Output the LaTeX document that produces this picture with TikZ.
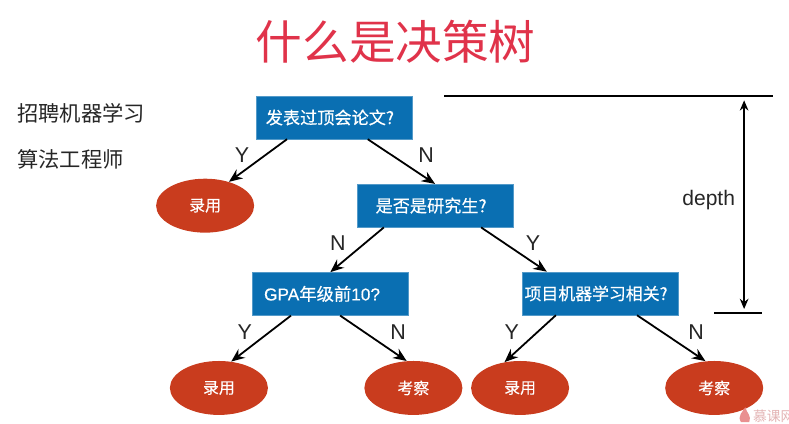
\documentclass[tikz,border=0pt]{standalone}
\usepackage{fontspec}
\setmainfont{Liberation Sans}
\newfontfamily\cjk{Noto Sans CJK SC}
\newfontfamily\cjkfat[FakeBold=0.35]{Noto Sans CJK SC}
\newfontfamily\latinfat[FakeBold=0.35]{Liberation Sans}
\usetikzlibrary{arrows.meta,shapes.geometric}
\definecolor{boxblue}{HTML}{0A6FB2}
\definecolor{leafred}{HTML}{C93C1E}
\definecolor{titlered}{HTML}{E0334A}
\definecolor{markpink}{HTML}{E3B4B4}
\tikzset{
    question/.style={fill=boxblue, draw=boxblue!70!white, minimum width=3.96cm, minimum height=1.09cm, inner sep=0pt, text=white, font=\cjkfat\fontsize{12.4}{14}\selectfont, execute at end node={\kern2mm}},
    leaf/.style={ellipse, fill=leafred, minimum width=2.49cm, minimum height=1.37cm, inner sep=0pt, text=white, font=\cjkfat\fontsize{11.5}{14}\selectfont},
    branch/.style={-{Stealth[length=3.4mm,width=2.8mm]}, line width=1.3pt, black},
    branchlabel/.style={font=\fontsize{15.5}{18}\selectfont, inner sep=0pt, text=black!85},
    note/.style={font=\cjk\fontsize{15.4}{18}\selectfont, inner sep=0pt, anchor=west, text=black!85}
}
\begin{document}
\begin{tikzpicture}
    \useasboundingbox (0,0) rectangle (20.04,10.744);

    % Title and notes
    \node[font=\cjk\fontsize{33.7}{36}\selectfont, text=titlered, inner sep=0pt] (title) at (10.05,9.68) {什么是决策树};
    \node[note] (job1) at (0.43,7.87) {招聘机器学习};
    \node[note] (job2) at (0.43,6.70) {算法工程师};

    % Questions
    \node[question] (q1) at (8.48,7.76) {发表过顶会论文?};
    \node[question] (q2) at (11.05,5.52) {是否是研究生?};
    \node[question, font=\latinfat\fontsize{12.5}{14}\selectfont, execute at end node={\kern2.2mm}] (q3) at (8.39,3.28) {GPA{\cjkfat 年级前}10?};
    \node[question, font=\cjkfat\fontsize{12.2}{14}\selectfont] (q4) at (15.24,3.29) {项目机器学习相关?};

    % Leaves
    \node[leaf] (a1) at (5.21,5.52) {录用};
    \node[leaf] (a2) at (5.56,0.89) {录用};
    \node[leaf] (a3) at (10.50,0.89) {考察};
    \node[leaf] (a4) at (13.21,0.89) {录用};
    \node[leaf] (a5) at (18.14,0.89) {考察};

    % Branches
    \draw[branch] ([xshift=-1.19cm]q1.south) -- (a1.45);
    \draw[branch] ([xshift=0.86cm]q1.south) -- (q2.north);
    \draw[branch] ([xshift=-1.30cm]q2.south) -- (q3.north);
    \draw[branch] ([xshift=1.17cm]q2.south) -- ([xshift=-1.35cm]q4.north);
    \draw[branch] ([xshift=-1.00cm]q3.south) -- (a2.65);
    \draw[branch] ([xshift=0.25cm]q3.south) -- (a3.104);
    \draw[branch] ([xshift=-1.12cm]q4.south) -- (a4.121);
    \draw[branch] ([xshift=0.94cm]q4.south) -- (a5.108);

    % Branch labels
    \node[branchlabel] (y1) at (6.15,6.80) {Y};
    \node[branchlabel] (n1) at (10.82,6.80) {N};
    \node[branchlabel] (n2) at (8.58,4.57) {N};
    \node[branchlabel] (y2) at (13.54,4.57) {Y};
    \node[branchlabel] (y3) at (6.22,2.31) {Y};
    \node[branchlabel] (n3) at (10.11,2.31) {N};
    \node[branchlabel] (y4) at (13.00,2.31) {Y};
    \node[branchlabel] (n4) at (17.68,2.31) {N};

    % Depth marker
    \coordinate (top1) at (11.28,8.30);
    \coordinate (top2) at (19.63,8.30);
    \coordinate (bot1) at (18.14,2.79);
    \coordinate (bot2) at (19.35,2.79);
    \coordinate (depthtop) at (18.90,8.30);
    \coordinate (depthbot) at (18.90,2.79);
    \draw[line width=1.2pt] (top1) -- (top2);
    \draw[line width=1.2pt] (bot1) -- (bot2);
    \draw[{Stealth[length=2.6mm,width=2.2mm]}-{Stealth[length=2.6mm,width=2.2mm]}, line width=1pt, shorten >=3pt, shorten <=3pt] (depthtop) -- (depthbot);
    \node[font=\fontsize{15.2}{18}\selectfont, inner sep=0pt, text=black!85] (depth) at (18.0,5.66) {depth};

    % Watermark
    \fill[markpink!80!red] (18.82,0.02) .. controls (18.72,0.18) and (18.86,0.28) .. (18.93,0.40) .. controls (18.96,0.26) and (19.10,0.18) .. (19.03,0.02) -- cycle;
    \node[font=\cjk\fontsize{10}{12}\selectfont, text=markpink, inner sep=0pt, anchor=west] (mark) at (19.12,0.16) {慕课网};
\end{tikzpicture}
\end{document}
